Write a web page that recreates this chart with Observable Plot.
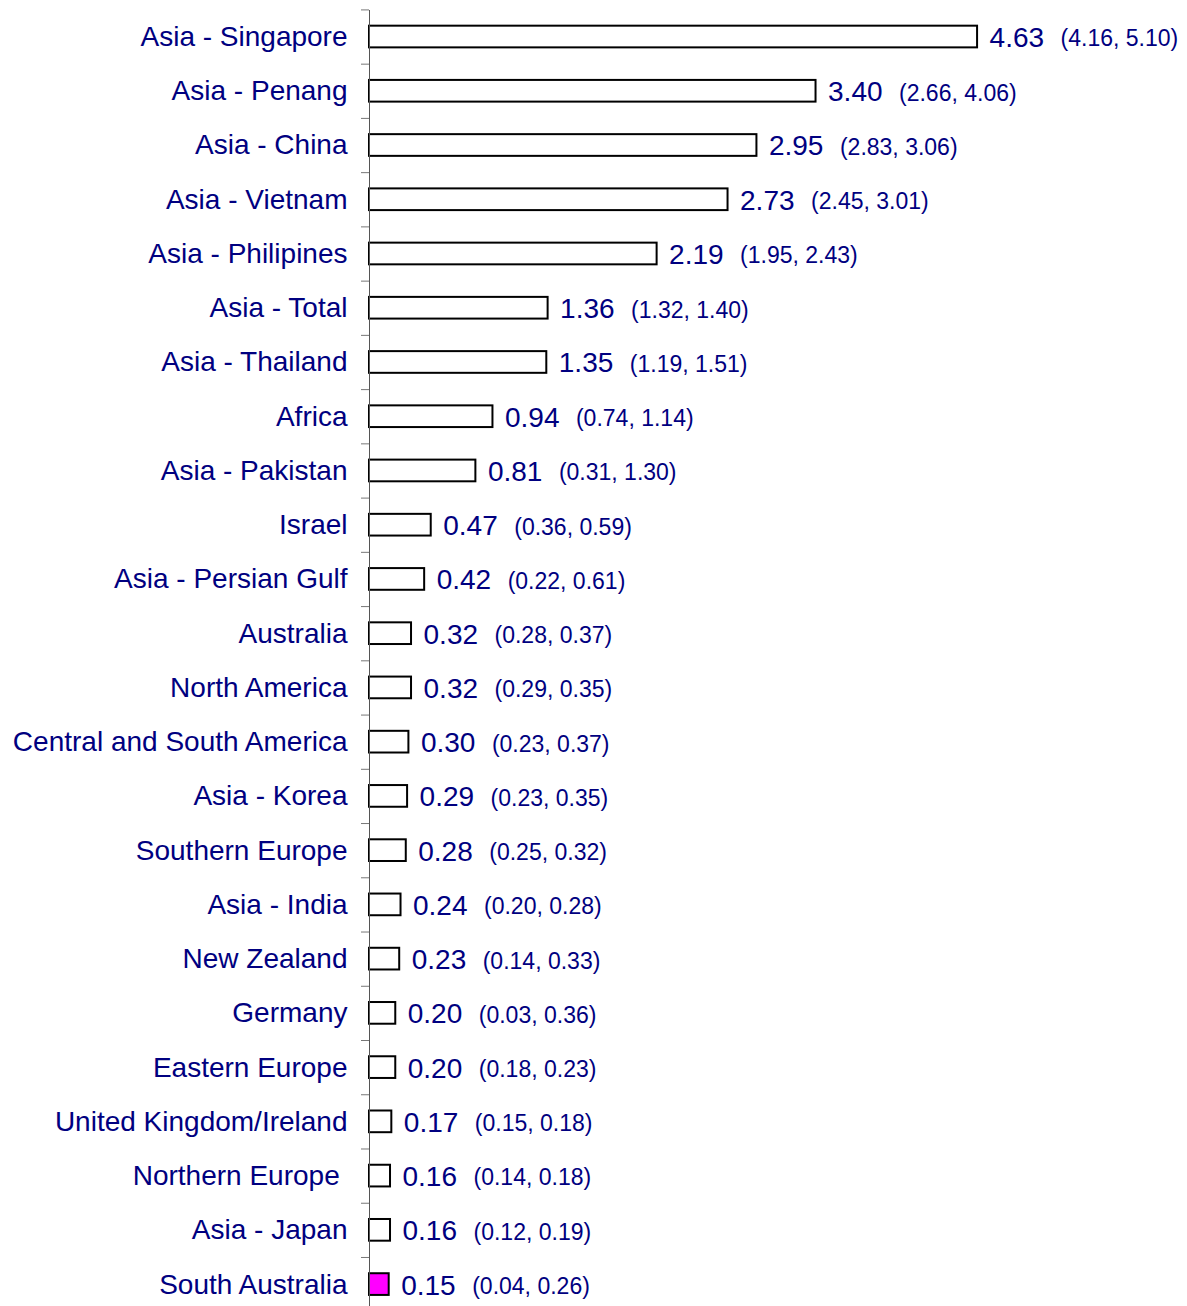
<!DOCTYPE html>
<html><head><meta charset="utf-8">
<script src="https://cdn.jsdelivr.net/npm/d3@7"></script>
<script src="https://cdn.jsdelivr.net/npm/@observablehq/plot@0.6"></script>
<style>body{margin:0;background:#fff}</style>
</head><body><div id="chart"></div>
<script>
const categories = ["Asia - Singapore","Asia - Penang","Asia - China","Asia - Vietnam","Asia - Philipines","Asia - Total","Asia - Thailand","Africa","Asia - Pakistan","Israel","Asia - Persian Gulf","Australia","North America","Central and South America","Asia - Korea","Southern Europe","Asia - India","New Zealand","Germany","Eastern Europe","United Kingdom/Ireland","Northern Europe\u00a0","Asia - Japan","South Australia"];
const values = [4.63,3.40,2.95,2.73,2.19,1.36,1.35,0.94,0.81,0.47,0.42,0.32,0.32,0.30,0.29,0.28,0.24,0.23,0.20,0.20,0.17,0.16,0.16,0.15];
const lower = [4.16,2.66,2.83,2.45,1.95,1.32,1.19,0.74,0.31,0.36,0.22,0.28,0.29,0.23,0.23,0.25,0.20,0.14,0.03,0.18,0.15,0.14,0.12,0.04];
const upper = [5.10,4.06,3.06,3.01,2.43,1.40,1.51,1.14,1.30,0.59,0.61,0.37,0.35,0.37,0.35,0.32,0.28,0.33,0.36,0.23,0.18,0.18,0.19,0.26];
const highlight = ["South Australia"];

const data = categories.map((c, i) => ({category: c, value: values[i], lo: lower[i], hi: upper[i]}));
const navy = "#000080";

const chart = Plot.plot({
  width: 1187, height: 1306,
  marginLeft: 369, marginRight: 30, marginTop: 10, marginBottom: 0,
  style: {fontFamily: "'Liberation Sans', Arial, sans-serif", background: "#fff"},
  x: {domain: [0, 6], axis: null},
  y: {domain: categories, range: [9.4, 1311.2], paddingInner: 0.6, paddingOuter: 0.3, round: false, axis: null},
  marks: [
    Plot.axisY({tickSize: 8, text: null, dy: -27.1, stroke: "#777", label: null}),
    Plot.axisY({tickSize: 0, tickPadding: 22, fontSize: 28, fill: navy, label: null}),
    Plot.barX(data, {x: "value", y: "category", fill: d => highlight.includes(d.category) ? "#ff00ff" : "#ffffff", stroke: "#000", strokeWidth: 2}),
    Plot.ruleX([0], {stroke: "#555", strokeWidth: 1}),
    Plot.text(data, {x: "value", y: "category", text: d => d.value.toFixed(2), dx: 12, dy: 1, textAnchor: "start", fontSize: 28, fill: navy}),
    Plot.text(data, {x: "value", y: "category", text: d => `(${d.lo.toFixed(2)}, ${d.hi.toFixed(2)})`, dx: 83, dy: 2, textAnchor: "start", fontSize: 23, fill: navy})
  ]
});
document.getElementById("chart").appendChild(chart);
</script>
</body></html>
